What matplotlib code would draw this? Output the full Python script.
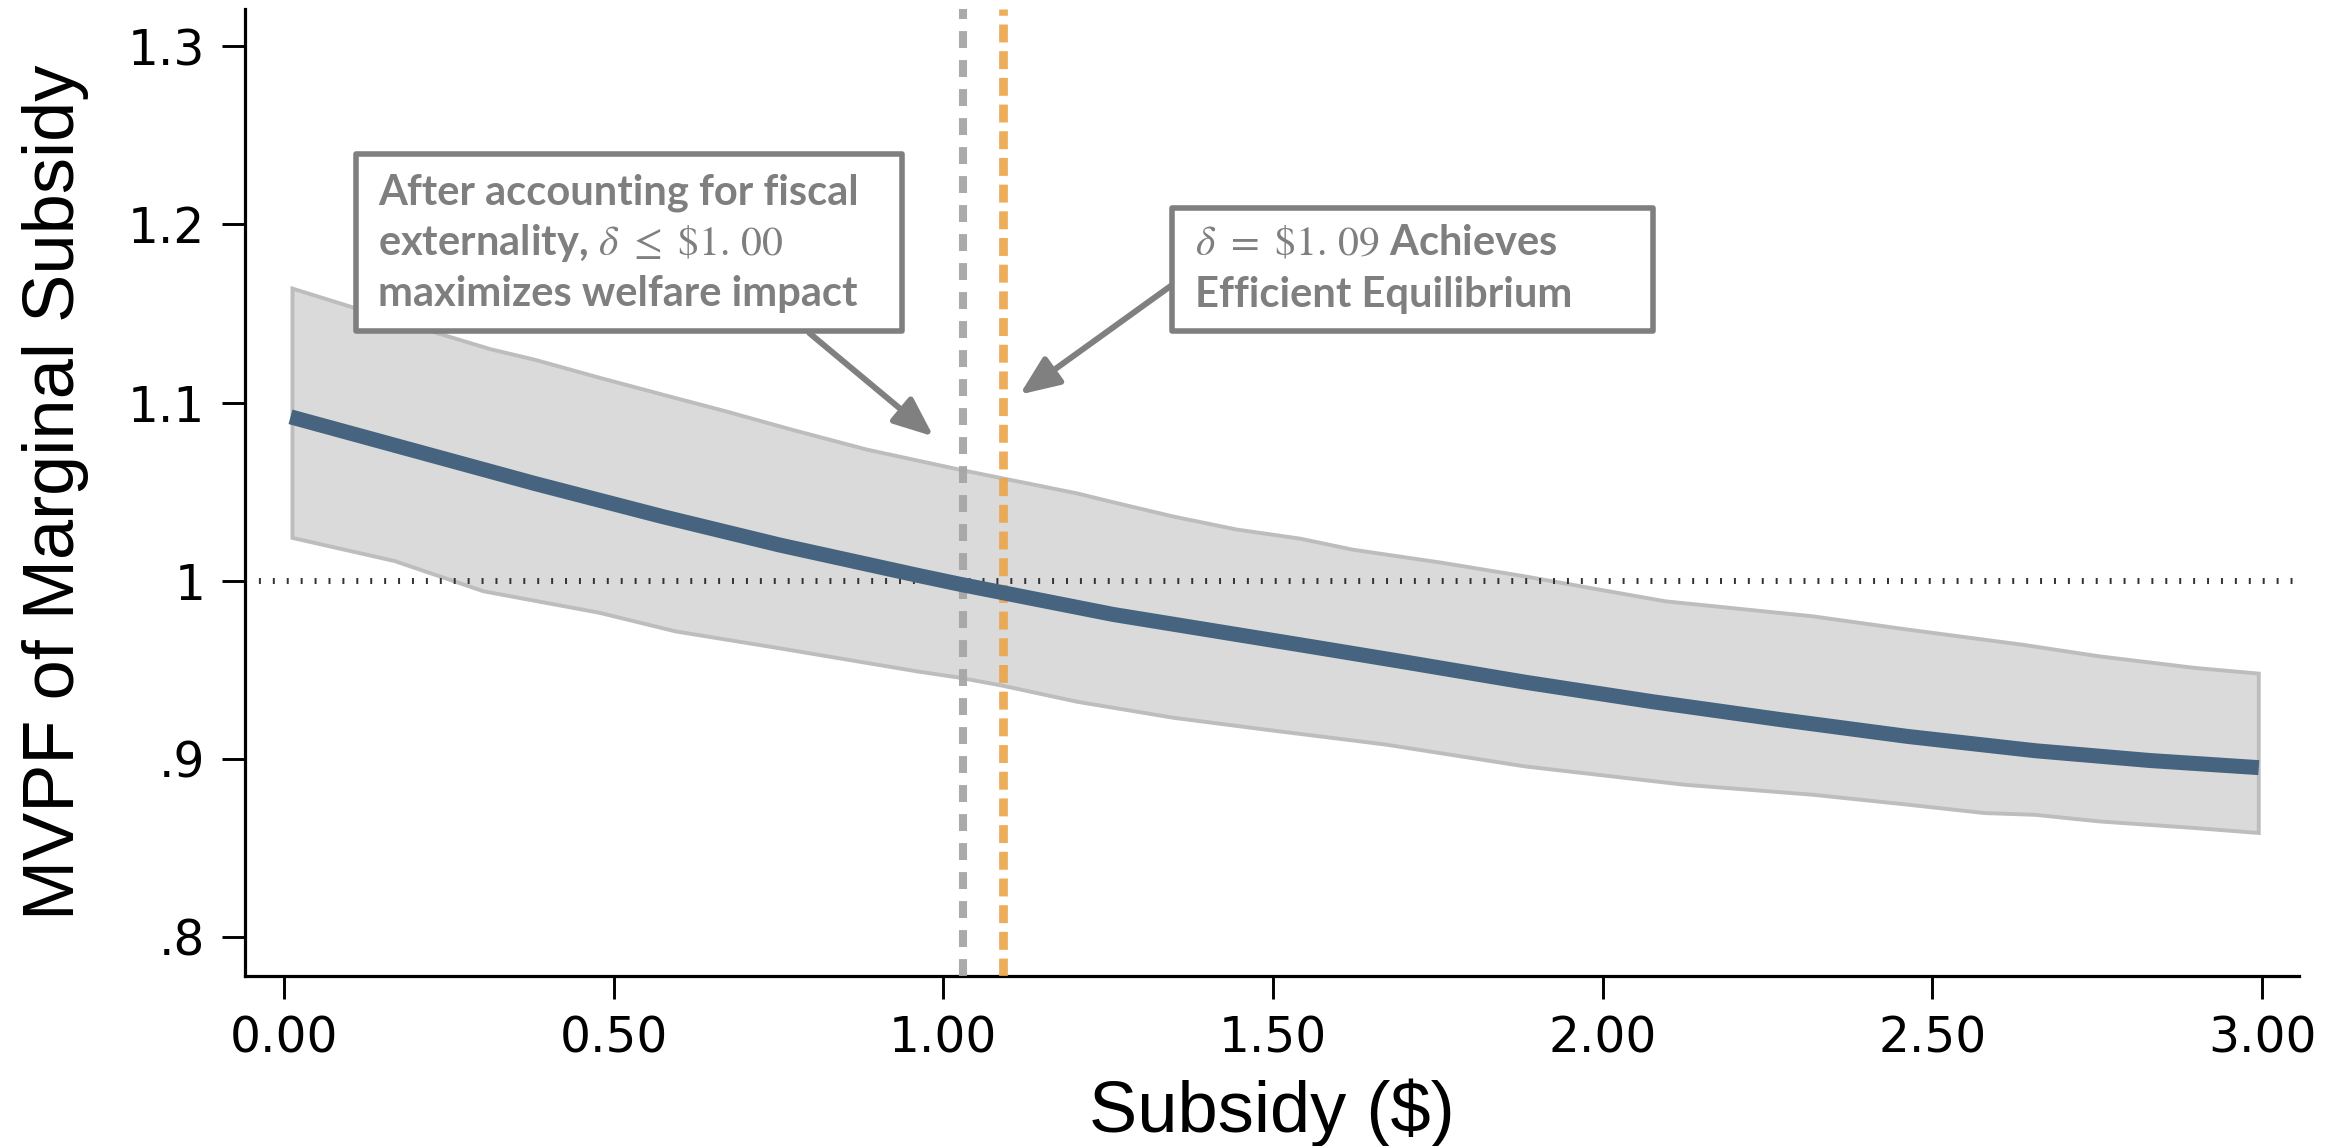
import matplotlib
matplotlib.use("Agg")
import matplotlib.pyplot as plt
from matplotlib.patches import Rectangle
import numpy as np

# ---------------- data ----------------
main_x = [0.01, 0.188, 0.381, 0.574, 0.752, 0.961, 1.025, 1.258, 1.541,
          1.689, 1.882, 2.076, 2.269, 2.463, 2.656, 2.830, 2.995]
main_y = [1.092, 1.074, 1.0545, 1.036, 1.020, 1.003, 0.998, 0.981, 0.964,
          0.955, 0.943, 0.932, 0.922, 0.9125, 0.9045, 0.899, 0.895]

upper_x = [0.013, 0.091, 0.188, 0.313, 0.381, 0.478, 0.574, 0.671, 0.768, 0.884,
           1.029, 1.203, 1.258, 1.349, 1.445, 1.541, 1.621, 1.757, 1.882, 2.095,
           2.318, 2.463, 2.637, 2.753, 2.898, 2.995]
upper_y = [1.164, 1.155, 1.144, 1.130, 1.124, 1.114, 1.1045, 1.095, 1.085, 1.0736,
           1.062, 1.049, 1.044, 1.036, 1.0287, 1.0236, 1.0174, 1.010, 1.0024, 0.9884,
           0.980, 0.9725, 0.964, 0.9575, 0.951, 0.9478]

lower_x = [0.013, 0.168, 0.303, 0.478, 0.594, 0.752, 0.961, 1.025, 1.090, 1.203,
           1.349, 1.496, 1.670, 1.882, 2.124, 2.318, 2.463, 2.579, 2.656, 2.753,
           2.898, 2.995]
lower_y = [1.024, 1.011, 0.994, 0.982, 0.9715, 0.962, 0.949, 0.9455, 0.941, 0.932,
           0.923, 0.916, 0.908, 0.8957, 0.8854, 0.8798, 0.8742, 0.8695, 0.8685, 0.8648,
           0.8611, 0.8583]

delta_fiscal = 1.03
delta_efficient = 1.09
reference_level = 1.0

x_ticks = [0.0, 0.5, 1.0, 1.5, 2.0, 2.5, 3.0]
x_ticklabels = ["0.00", "0.50", "1.00", "1.50", "2.00", "2.50", "3.00"]
y_ticks = [0.8, 0.9, 1.0, 1.1, 1.2, 1.3]
y_ticklabels = [".8", ".9", "1", "1.1", "1.2", "1.3"]

box1_lines = ["After accounting for fiscal",
              r"externality, $\delta\ \leq\ \$1.\,00$",
              "maximizes welfare impact"]
box2_lines = [r"$\delta\ =\ \$1.\,09$ Achieves",
              "Efficient Equilibrium"]

# ---------------- style ----------------
plt.rcParams["mathtext.fontset"] = "stix"
LINE_C = "#46637F"
BAND_FILL = "#DADADA"
BAND_EDGE = "#BDBDBD"
GRAY_DASH = "#A6A6A6"
ORANGE = "#EBA54A"
ANN_C = "#7F7F7F"

W, H, DPI = 2351, 1146, 100
fig = plt.figure(figsize=(W / DPI, H / DPI), dpi=DPI)
ax = fig.add_axes([245 / W, 1 - 976 / H, (2299 - 245) / W, (976 - 9) / H])

ax.set_xlim(-0.059, 3.056)
ax.set_ylim(0.778, 1.321)

# confidence band
bx = np.concatenate([upper_x, lower_x[::-1]])
by = np.concatenate([upper_y, lower_y[::-1]])
ax.fill(bx, by, facecolor=BAND_FILL, edgecolor=BAND_EDGE, linewidth=2.8,
        joinstyle="miter", zorder=1)

# reference line at 1
ax.axhline(reference_level, color="#333333", linewidth=4.3,
           linestyle=(0, (0.33, 2.0)), dash_capstyle="butt", zorder=2)

# vertical dashed lines
ax.axvline(delta_fiscal, color=GRAY_DASH, linewidth=5.8, alpha=0.95,
           linestyle=(0, (2.1, 1.5)), dash_capstyle="butt", zorder=3)
ax.axvline(delta_efficient, color=ORANGE, linewidth=6.3, alpha=0.9,
           linestyle=(0, (2.05, 1.0)), dash_capstyle="butt", zorder=3)

# main line
ax.plot(main_x, main_y, color=LINE_C, linewidth=10.8, solid_capstyle="butt",
        solid_joinstyle="round", zorder=4)

# annotation boxes
txt_kw = dict(color=ANN_C, fontsize=30, fontweight="bold", family="Lato",
              va="baseline", ha="left", zorder=7)
r1 = Rectangle((0.1086, 1.140), 0.9381 - 0.1086, 1.2393 - 1.140,
               facecolor="white", edgecolor=ANN_C, linewidth=4.0,
               joinstyle="round", zorder=6)
ax.add_patch(r1)
for yb, s in zip([1.2112, 1.1831, 1.1541], box1_lines):
    ax.text(0.1426, yb, s, **txt_kw)

r2 = Rectangle((1.347, 1.140), 2.077 - 1.347, 1.2094 - 1.140,
               facecolor="white", edgecolor=ANN_C, linewidth=4.0,
               joinstyle="round", zorder=6)
ax.add_patch(r2)
for yb, s in zip([1.1831, 1.1534], box2_lines):
    ax.text(1.381, yb, s, **txt_kw)

# arrows
arr = dict(arrowstyle="-|>,head_length=0.6,head_width=0.25", color="#808080",
           lw=4.3, shrinkA=0, shrinkB=0, mutation_scale=40)
ax.annotate("", xy=(0.985, 1.081), xytext=(0.797, 1.139), arrowprops=arr, zorder=5)
ax.annotate("", xy=(1.116, 1.1045), xytext=(1.348, 1.1663), arrowprops=arr, zorder=5)

# axes styling
for s in ["top", "right"]:
    ax.spines[s].set_visible(False)
for s in ["left", "bottom"]:
    ax.spines[s].set_linewidth(2.3)
    ax.spines[s].set_color("black")

ax.set_xticks(x_ticks)
ax.set_xticklabels(x_ticklabels, family="DejaVu Sans", fontsize=35)
ax.set_yticks(y_ticks)
ax.set_yticklabels(y_ticklabels, family="DejaVu Sans", fontsize=35)
ax.tick_params(axis="both", direction="out", length=16.5, width=2.1, color="black")
ax.tick_params(axis="x", pad=11)
ax.tick_params(axis="y", pad=12)

ax.set_xlabel("Subsidy ($)", family="Liberation Sans", fontsize=52)
ax.set_ylabel("MVPF of Marginal Subsidy", family="Liberation Sans", fontsize=52)
ax.xaxis.set_label_coords(0.5, -0.1065)
ax.yaxis.set_label_coords(-0.076, 0.5)

fig.savefig("out.png", dpi=DPI, facecolor="white")
